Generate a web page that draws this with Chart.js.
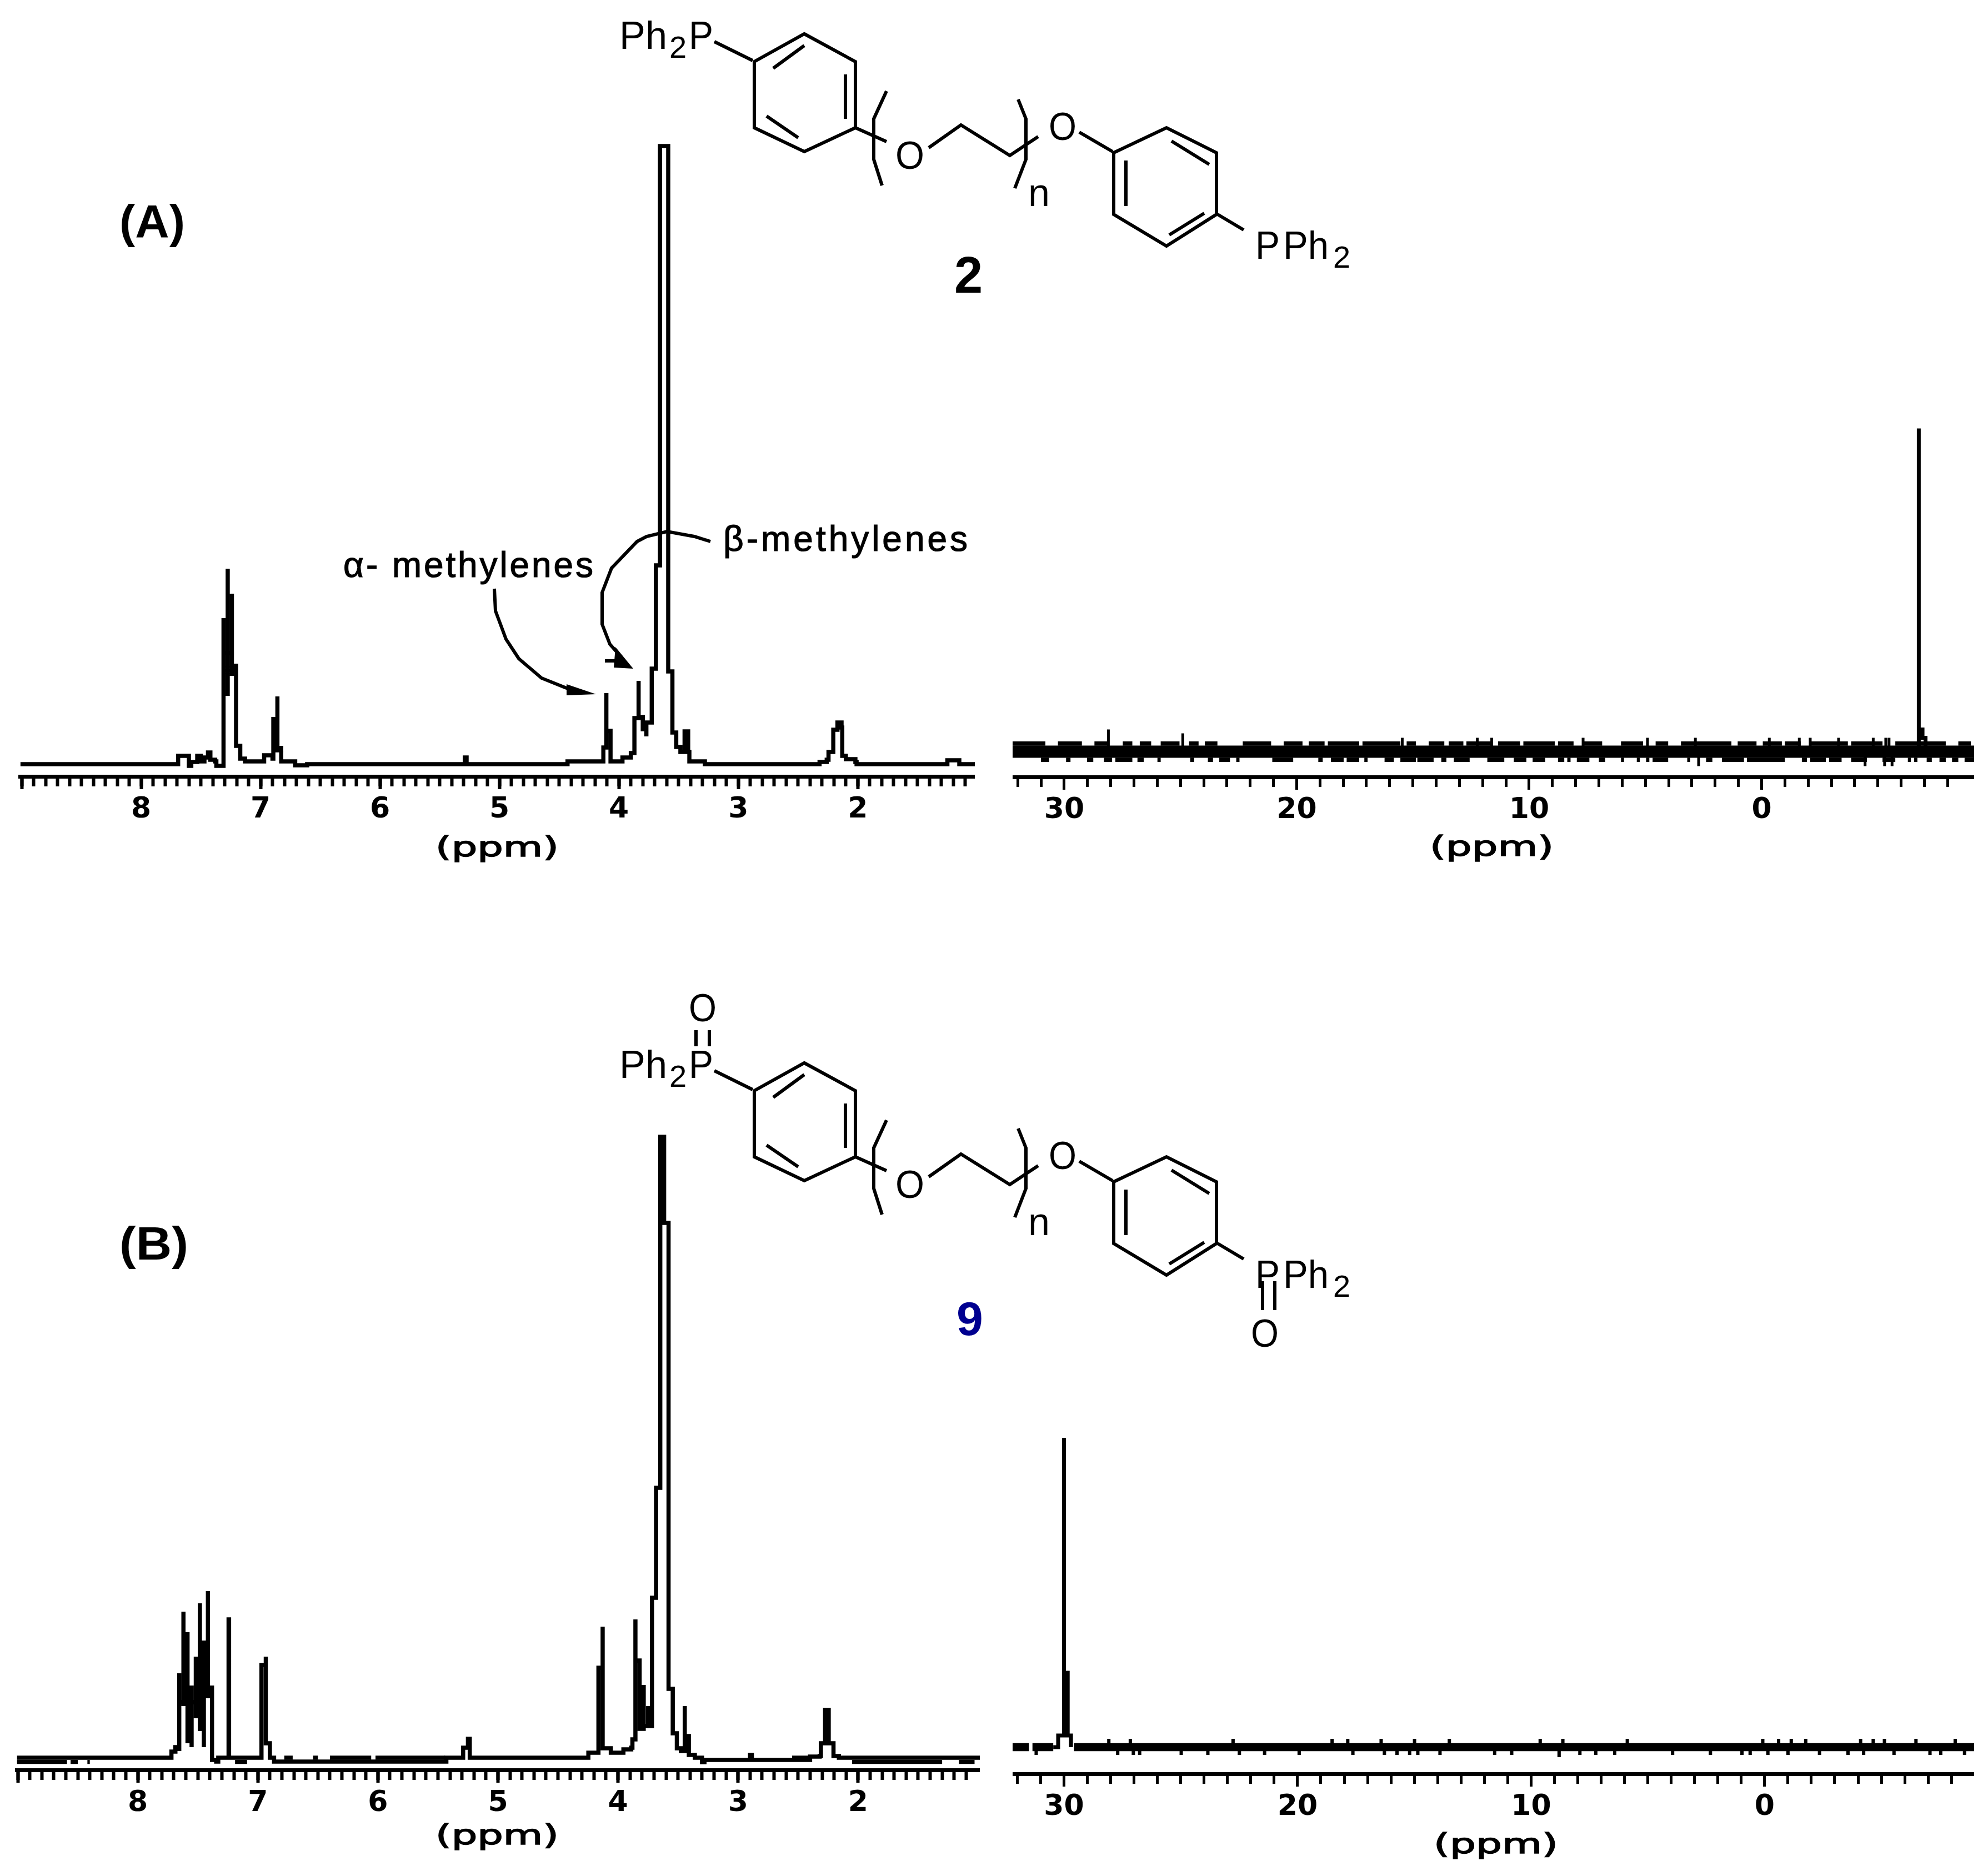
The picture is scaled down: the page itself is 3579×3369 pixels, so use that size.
<!DOCTYPE html>
<html>
<head>
<meta charset="utf-8">
<title>NMR spectra of 2 and 9</title>
<script src="https://cdn.jsdelivr.net/npm/chart.js@4"></script>
<style>
  body { margin: 0; background: #fff; }
  #page { position: relative; width: 3579px; height: 3369px; overflow: hidden; }
  canvas { position: absolute; }
  svg { position: absolute; left: 0; top: 0; }
  .bond { fill: none; stroke: #000; stroke-width: 6; }
  .atom { font-family: "Liberation Sans"; font-size: 70px; fill: #000; }
  .ppm { font-family: "DejaVu Sans"; font-size: 50px; fill: #000; stroke: #000; stroke-width: 1.5; }
  .note { font-family: "Liberation Sans"; font-size: 64px; fill: #000; stroke: #000; stroke-width: 1.2; }
  .tag { font-family: "Liberation Sans"; font-size: 84px; font-weight: bold; fill: #000; }
</style>
</head>
<body>
<div id="page">
  <canvas id="a1h"></canvas>
  <canvas id="a31p"></canvas>
  <canvas id="b1h"></canvas>
  <canvas id="b31p"></canvas>
  <svg width="3579" height="3369" viewBox="0 0 3579 3369">
    <defs>
      <g id="mol">
        <text class="atom" x="1115" y="88" textLength="86" lengthAdjust="spacingAndGlyphs">Ph</text>
        <text class="atom" x="1205" y="104" style="font-size:56px">2</text>
        <text class="atom" x="1240" y="88" textLength="44" lengthAdjust="spacingAndGlyphs">P</text>
        <polyline class="bond" points="1286,75 1355,109"/>
        <polygon class="bond" points="1448,61 1540,111 1540,230 1448,273 1358,230 1358,111"/>
        <line class="bond" x1="1522" y1="134" x2="1522" y2="214"/>
        <line class="bond" x1="1392" y1="123" x2="1448" y2="82"/>
        <line class="bond" x1="1380" y1="209" x2="1437" y2="248"/>
        <line class="bond" x1="1540" y1="230" x2="1596" y2="255"/>
        <polyline class="bond" points="1596,164 1573,214 1573,287 1588,334"/>
        <text class="atom" x="1612" y="304" textLength="52" lengthAdjust="spacingAndGlyphs">O</text>
        <polyline class="bond" points="1672,266 1730,225 1818,280 1869,246"/>
        <polyline class="bond" points="1833,179 1847,214 1847,287 1827,339"/>
        <text class="atom" x="1851" y="371">n</text>
        <text class="atom" x="1888" y="252" textLength="50" lengthAdjust="spacingAndGlyphs">O</text>
        <line class="bond" x1="1943" y1="238" x2="2003" y2="273"/>
        <polygon class="bond" points="2005,275 2100,230 2190,275 2190,386 2100,443 2005,386"/>
        <line class="bond" x1="2027" y1="289" x2="2027" y2="371"/>
        <line class="bond" x1="2109" y1="254" x2="2177" y2="296"/>
        <line class="bond" x1="2168" y1="384" x2="2105" y2="423"/>
        <line class="bond" x1="2192" y1="386" x2="2239" y2="414"/>
        <text class="atom" x="2260" y="466" textLength="44" lengthAdjust="spacingAndGlyphs">P</text>
        <text class="atom" x="2310" y="466" textLength="82" lengthAdjust="spacingAndGlyphs">Ph</text>
        <text class="atom" x="2400" y="482" style="font-size:56px">2</text>
      </g>
    </defs>
    <use href="#mol"/>
    <use href="#mol" y="1853"/>

    <text class="atom" x="1718" y="527" style="font-size:92px;font-weight:bold">2</text>
    <text class="atom" x="1722" y="2404" style="font-size:86px;font-weight:bold;fill:#000090">9</text>
    <text class="atom" x="1240" y="1839" textLength="50" lengthAdjust="spacingAndGlyphs">O</text>
    <line class="bond" x1="1253" y1="1855" x2="1253" y2="1884"/>
    <line class="bond" x1="1277" y1="1855" x2="1277" y2="1884"/>
    <text class="atom" x="2252" y="2425" textLength="50" lengthAdjust="spacingAndGlyphs">O</text>
    <line class="bond" x1="2273" y1="2307" x2="2273" y2="2359"/>
    <line class="bond" x1="2295" y1="2307" x2="2295" y2="2359"/>

    <text class="tag" x="215" y="428" textLength="118" lengthAdjust="spacingAndGlyphs">(A)</text>
    <text class="tag" x="215" y="2268" textLength="124" lengthAdjust="spacingAndGlyphs">(B)</text>

    <text class="note" x="618" y="1039" textLength="450" lengthAdjust="spacing">α- methylenes</text>
    <text class="note" x="1302" y="992" textLength="440" lengthAdjust="spacing">β-methylenes</text>
    <polyline class="bond" points="1279,975 1250,966 1201,957 1164,966 1147,975 1101,1023 1084,1067 1084,1124 1098,1160 1120,1185"/>
    <line class="bond" x1="1089" y1="1190" x2="1120" y2="1190"/>
    <polygon points="1108,1165 1140,1204 1105,1202" fill="#000"/>
    <polyline class="bond" points="890,1060 892,1100 911,1151 934,1186 975,1221 1020,1239 1040,1246"/>
    <polygon points="1020,1232 1073,1250 1020,1252" fill="#000"/>

    <text class="ppm" x="784" y="1542" textLength="222" lengthAdjust="spacingAndGlyphs">(ppm)</text>
    <text class="ppm" x="2574" y="1541" textLength="223" lengthAdjust="spacingAndGlyphs">(ppm)</text>
    <text class="ppm" x="784" y="3321" textLength="222" lengthAdjust="spacingAndGlyphs">(ppm)</text>
    <text class="ppm" x="2581" y="3337" textLength="224" lengthAdjust="spacingAndGlyphs">(ppm)</text>
  </svg>
</div>

<script>
// 1H spectrum of 2, intensity in height above the baseline
const ppmA1H = [
  9.01,7.71,7.69,7.62,7.60,7.58,7.53,7.50,7.47,7.44,7.42,7.38,7.37,
  7.31,7.31,7.31,7.275,7.275,7.275,7.24,7.24,7.24,7.205,7.205,7.17,7.13,
  6.98,6.97,6.90,6.893,6.893,6.859,6.859,6.827,6.827,6.72,6.71,6.62,6.61,
  5.30,5.29,5.275,4.44,4.43,4.15,4.13,4.105,4.105,4.07,4.07,4.02,3.97,3.90,3.87,3.835,3.835,3.835,3.80,3.80,3.77,3.77,
  3.725,3.725,3.69,3.69,3.656,3.656,3.587,3.587,3.552,3.552,3.52,3.485,3.45,3.42,3.41,3.33,3.28,
  2.33,2.32,2.26,2.245,2.21,2.205,2.17,2.136,2.13,2.10,2.02,2.01,1.26,1.25,1.16,1.15,1.02
];
const intA1H = [
  0,0,15,15,-3,4,15,5,12,21,8,5,-3,
  5,263,200,123,352,200,159,307,170,181,33,10,5,
  5,16,10,85,60,122,25,33,5,5,-2,-2,0,
  0,12,0,0,5,5,30,128,60,60,5,5,12,20,83,85,150,85,85,63,50,75,
  79,172,172,358,358,1113,1113,167,167,57,31,22,59,22,5,5,0,
  0,4,8,22,22,62,75,66,15,9,4,0,0,7,7,0,0
];

// 1H spectrum of 9
const ppmB1H = [
  9.006,7.72,7.72,7.687,7.687,7.655,7.655,7.655,7.62,7.62,7.62,7.586,7.586,7.586,7.552,7.552,7.552,7.517,7.517,7.517,7.483,7.483,7.483,7.45,7.45,7.45,7.416,7.416,7.416,7.382,7.382,7.347,7.33,
  7.25,7.244,7.24,6.98,6.97,6.934,6.934,6.90,6.90,6.865,6.85,
  5.44,5.43,5.30,5.29,5.26,5.25,5.235,5.235,4.25,
  4.247,4.20,4.163,4.163,4.128,4.128,4.093,4.06,3.99,3.955,3.89,3.88,3.855,3.855,3.855,3.82,3.82,3.786,3.786,3.75,
  3.75,3.717,3.717,3.683,3.683,3.648,3.648,3.616,3.616,3.579,3.579,3.544,3.544,3.51,3.476,3.444,3.444,3.444,3.41,3.41,3.36,3.30,
  3.28,2.91,2.90,2.885,2.55,2.40,2.32,2.31,2.275,2.275,2.245,2.245,2.205,2.205,2.16,1.30,0.986
];
const intB1H = [
  0,0,11,11,19,12,152,100,93,263,200,226,26,100,19,130,100,71,182,100,278,48,100,19,211,150,300,107,120,130,-4,-7,0,
  0,249,0,0,167,182,26,26,0,-7,-7,
  -7,0,0,18,18,34,34,0,0,
  9,9,12,162,236,17,17,9,9,15,18,33,35,249,175,175,52,131,57,93,
  57,93,288,288,486,486,1118,1118,963,963,124,124,44,17,12,35,93,39,39,5,0,-8,
  -4,-4,5,-4,-4,2,3,26,26,86,86,26,26,3,0,0,0
];
// stretches of the 1H trace of 9 that sit one level up or down
const b1hHighStart = [6.78,6.54,6.40,6.02,2.55];
const b1hHighEnd = [6.71,6.50,6.056,5.44,2.40];
const b1hLowStart = [9.006,8.56,8.42,7.19,2.05,1.16];
const b1hLowEnd = [8.59,8.50,8.40,7.09,1.30,1.03];

// 31P spectrum of 2
const ppmA31P = [-6.76,-6.76,-6.76,-6.92,-6.92,-7.05,-7.05];
const intA31P = [0,582,40,40,25,25,0];
const a31pBandEnds = [32.22,-9.14];
const a31pUpStart = [32.22,30.27,28.70,27.48,26.75,25.85,24.63,23.95,22.32,20.56,19.48,18.66,17.17,15.27,14.32,13.46,12.70,11.34,10.25,8.76,7.68,6.05,4.56,3.47,1.03,-0.05,-1.00,-2.09,-3.85,-5.75,-8.46];
const a31pUpEnd = [30.81,29.24,28.10,27.07,26.26,25.04,24.22,23.41,21.10,19.75,18.80,17.31,15.54,14.87,13.65,12.83,11.61,10.39,8.90,8.09,6.86,5.10,4.02,1.30,0.22,-0.87,-1.68,-3.71,-5.20,-7.92,-9.0];
const a31pLowStart = [31.0,29.92,29.02,28.29,27.80,26.85,25.99,24.58,23.82,23.33,22.60,21.05,19.07,18.53,17.85,17.09,16.22,15.54,14.81,13.78,13.24,11.80,10.66,9.85,8.76,8.36,7.95,7.0,6.05,5.37,4.97,4.69,3.20,2.39,1.71,0.63,-1.73,-2.09,-2.9,-3.85,-5.2,-6.29,-6.56,-7.10,-7.65,-8.19,-8.73];
const a31pLowEnd = [30.65,29.73,28.75,27.94,27.07,26.58,25.85,24.41,23.60,22.87,22.46,20.15,18.88,17.98,17.31,16.95,15.82,14.87,14.11,13.56,12.56,11.07,10.12,9.31,8.49,8.22,7.41,6.73,5.92,5.24,4.83,4.02,3.07,2.12,0.76,-1.0,-1.95,-2.76,-3.44,-4.53,-5.75,-6.42,-6.70,-7.32,-7.92,-8.46,-9.14];
const a31pSpikePpm = [28.10,24.90,15.46,12.23,11.61,7.68,4.91,2.85,-0.33,-1.62,-2.09,-3.31,-4.80,-5.34,-5.48,2.71,-4.45,-5.29,-5.61];
const a31pSpikeInt = [40,33,25,25,25,25,25,25,25,25,25,25,25,25,25,-26,-26,-26,-26];

// 31P spectrum of 9
const ppmB31P = [30.46,30.25,30.25,30.0,30.0,30.0,29.84,29.84,29.7,29.7];
const intB31P = [0,0,21,21,557,134,134,21,21,0];
const b31pBandStart = [32.2,31.35,29.57];
const b31pBandEnd = [31.5,30.46,-8.97];
const b31pSpikePpm = [28.08,27.16,22.76,18.52,17.85,16.42,14.99,13.50,9.61,8.64,5.88,0.08,-0.60,-1.14,-1.76,-4.11,-4.65,-5.13,-6.48,-8.16,
  31.19,27.70,27.03,26.76,24.98,23.84,22.49,21.41,19.93,17.63,16.28,15.74,15.20,14.85,13.90,11.56,10.83,8.80,7.91,7.23,6.42,3.94,2.32,0.97,0.62,-0.14,-1.0,-2.35,-3.57,-4.24,-5.54,-7.08,-7.54,-8.56];
const b31pSpikeInt = [15,15,15,15,15,15,15,15,15,15,15,15,15,15,15,15,15,15,15,15,
  -14,-14,-14,-14,-14,-14,-14,-14,-14,-14,-14,-14,-14,-14,-14,-14,-14,-18,-14,-14,-14,-14,-14,-14,-14,-14,-14,-14,-14,-14,-14,-14,-14,-14];

// axis ticks
const hMajor = [9,8,7,6,5,4,3,2];
const hLabels = [8,7,6,5,4,3,2];
const hMinor = [];
for (let i = 90; i >= 11; i--) hMinor.push(i / 10);
const pMajor = [30,20,10,0];
const pLabels = [30,20,10,0];
const pMinor = [];
for (let i = 32; i >= -8; i--) pMinor.push(i);

function trace(xs, ys) {
  return xs.map((x, i) => ({ x: x, y: ys[i] }));
}

// separate flat stretches, broken by a gap
function runs(starts, ends, level) {
  let pts = [];
  starts.forEach((s, i) => {
    pts.push({ x: s, y: level }, { x: ends[i], y: level }, { x: NaN, y: NaN });
  });
  return pts;
}

function spikes(xs, ys) {
  let pts = [];
  xs.forEach((x, i) => {
    pts.push({ x: x, y: 0 }, { x: x, y: ys[i] }, { x: NaN, y: NaN });
  });
  return pts;
}

function line(data, width, stepped) {
  return {
    data: data,
    showLine: true,
    stepped: !!stepped,
    borderColor: '#000',
    backgroundColor: '#000',
    borderWidth: width,
    pointRadius: 0,
    tension: 0,
    borderJoinStyle: 'miter',
    borderCapStyle: 'butt',
    clip: false,
    spanGaps: false
  };
}

function panel(id, o) {
  const plotH = 1200, axisH = 170;
  const canvas = document.getElementById(id);
  canvas.width = o.right - o.left;
  canvas.height = plotH + axisH;
  canvas.style.left = o.left + 'px';
  canvas.style.top = (o.axisY - plotH) + 'px';
  const yMin = -(o.axisY - o.baseY);

  return new Chart(canvas.getContext('2d'), {
    type: 'scatter',
    data: { datasets: o.datasets },
    options: {
      responsive: false,
      animation: false,
      events: [],
      layout: { padding: 0 },
      plugins: { legend: { display: false }, tooltip: { enabled: false } },
      scales: {
        x: {
          type: 'linear',
          reverse: true,
          min: o.ppmMin,
          max: o.ppmMax,
          afterBuildTicks: s => { s.ticks = o.major.map(v => ({ value: v })); },
          afterFit: s => { s.height = axisH; },
          border: { display: true, color: '#000', width: 7 },
          grid: { display: true, drawOnChartArea: false, drawTicks: true, color: '#000', tickColor: '#000', tickLength: 23, tickWidth: o.tickWidth },
          ticks: {
            color: '#000',
            autoSkip: false,
            maxRotation: 0,
            padding: o.labelPad,
            font: { family: 'DejaVu Sans', weight: 'bold', size: 52 },
            callback: v => (o.labels.includes(v) ? String(v) : '')
          }
        },
        xMinor: {
          type: 'linear',
          axis: 'x',
          reverse: true,
          min: o.ppmMin,
          max: o.ppmMax,
          position: { y: yMin },
          afterBuildTicks: s => { s.ticks = o.minor.map(v => ({ value: v })); },
          border: { display: false },
          grid: { display: true, drawOnChartArea: false, drawTicks: true, color: '#000', tickColor: '#000', tickLength: 18, tickWidth: o.tickWidth },
          ticks: { display: false, autoSkip: false }
        },
        y: { type: 'linear', display: false, min: yMin, max: yMin + plotH }
      }
    }
  });
}

panel('a1h', {
  left: 33, right: 1755, axisY: 1398, baseY: 1376, ppmMin: 1.02, ppmMax: 9.01,
  major: hMajor, minor: hMinor, labels: hLabels, tickWidth: 6, labelPad: 6,
  datasets: [line(trace(ppmA1H, intA1H), 7.5, true)]
});

panel('a31p', {
  left: 1823, right: 3554, axisY: 1399, baseY: 1353.5, ppmMin: -9.14, ppmMax: 32.22,
  major: pMajor, minor: pMinor, labels: pLabels, tickWidth: 5, labelPad: 6,
  datasets: [
    line(runs([a31pBandEnds[0]], [a31pBandEnds[1]], 0), 22),
    line(runs(a31pUpStart, a31pUpEnd, 14.7), 7.7),
    line(runs(a31pLowStart, a31pLowEnd, -14.7), 7.7),
    line(spikes(a31pSpikePpm, a31pSpikeInt), 5),
    line(trace(ppmA31P, intA31P), 7, true)
  ]
});

panel('b1h', {
  left: 26, right: 1764, axisY: 3187, baseY: 3165, ppmMin: 0.986, ppmMax: 9.006,
  major: hMajor, minor: hMinor, labels: hLabels, tickWidth: 6, labelPad: 6,
  datasets: [
    line(trace(ppmB1H, intB1H), 7.5, true),
    line(runs(b1hHighStart, b1hHighEnd, 0), 7.5),
    line(runs(b1hLowStart, b1hLowEnd, -7.5), 7.5)
  ]
});

panel('b31p', {
  left: 1823, right: 3554, axisY: 3194, baseY: 3146, ppmMin: -8.97, ppmMax: 32.2,
  major: pMajor, minor: pMinor, labels: pLabels, tickWidth: 5, labelPad: 6,
  datasets: [
    line(runs(b31pBandStart, b31pBandEnd, 0), 14.5),
    line(spikes(b31pSpikePpm, b31pSpikeInt), 6),
    line(trace(ppmB31P, intB31P), 7, true)
  ]
});
</script>
</body>
</html>
